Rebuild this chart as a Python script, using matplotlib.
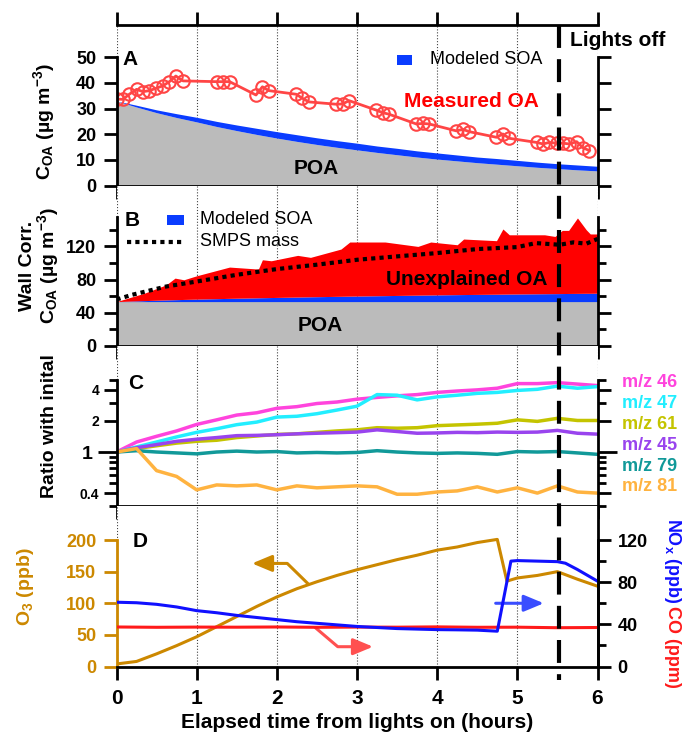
import numpy as np
import matplotlib.pyplot as plt
from matplotlib.lines import Line2D
from matplotlib.patches import Rectangle
from matplotlib.ticker import NullFormatter
from matplotlib.transforms import blended_transform_factory

plt.rcParams['font.family'] = ['Liberation Sans', 'DejaVu Sans']
plt.rcParams['font.weight'] = 'bold'
plt.rcParams['axes.labelweight'] = 'bold'
plt.rcParams['mathtext.fontset'] = 'custom'
plt.rcParams['mathtext.rm'] = 'Liberation Sans:bold'
plt.rcParams['mathtext.bf'] = 'Liberation Sans:bold'
plt.rcParams['mathtext.it'] = 'Liberation Sans:bold'
plt.rcParams['mathtext.default'] = 'bf'

# ---------------- data ----------------
hours = [0, 1, 2, 3, 4, 5, 6]
lights_off = 5.52

# panel A : POA decay + modeled SOA + measured OA
t_a = np.linspace(0, 6, 25)
poa_a = [33.0, 30.6, 28.4, 26.5, 24.8, 23.0, 21.4, 19.9, 18.5, 17.2, 16.0, 14.9, 13.9,
         12.9, 12.0, 11.1, 10.3, 9.6, 8.9, 8.3, 7.7, 7.1, 6.6, 6.1, 5.7]
soa_a = [0.0, 0.7, 1.1, 1.5, 1.8, 2.0, 2.2, 2.4, 2.5, 2.6, 2.6, 2.6, 2.6,
         2.5, 2.5, 2.4, 2.4, 2.3, 2.2, 2.2, 2.1, 2.0, 1.9, 1.9, 1.8]
t_meas = [0.0, 0.08, 0.16, 0.25, 0.33, 0.41, 0.49, 0.58, 0.66, 0.74, 0.83,
          1.25, 1.33, 1.41, 1.74, 1.82, 1.90, 2.24, 2.32, 2.40, 2.74, 2.82, 2.90,
          3.24, 3.32, 3.40, 3.74, 3.82, 3.90, 4.24, 4.32, 4.40, 4.74, 4.82, 4.90,
          5.24, 5.32, 5.40, 5.49, 5.57, 5.65, 5.74, 5.82, 5.90]
oa_meas = [33.7, 33.6, 35.6, 37.5, 36.6, 37.0, 37.9, 38.9, 40.5, 42.7, 40.8,
           40.5, 40.5, 40.5, 35.3, 38.5, 37.0, 35.6, 34.0, 32.6, 31.7, 31.8, 33.1,
           29.4, 28.4, 27.8, 24.0, 24.2, 24.0, 21.3, 21.9, 21.0, 18.8, 20.1, 18.4,
           16.8, 16.2, 16.8, 16.5, 16.5, 16.2, 17.1, 14.7, 13.6]

# panel B : wall corrected
poa_b = 53.5
t_b = [0, 0.35, 0.62, 0.73, 0.84, 1.0, 1.41, 1.77, 1.82, 1.93, 2.26, 2.42, 2.80, 2.91, 3.35,
       3.76, 3.92, 4.25, 4.33, 4.74, 4.82, 4.90, 5.34, 5.47, 5.56, 5.64, 5.75, 5.86, 5.91, 6.0]
soa_b = [0.0, 1.2, 2.0, 2.3, 2.6, 3.0, 3.9, 4.6, 4.7, 4.9, 5.5, 5.8, 6.4, 6.6, 7.2,
         7.8, 8.0, 8.4, 8.5, 8.9, 9.0, 9.1, 9.5, 9.6, 9.7, 9.8, 9.9, 10.0, 10.0, 10.1]
oa_b = [53.5, 63.7, 73.7, 81.8, 79.8, 84.6, 95.1, 92.7, 103.9, 102.7, 109.2, 106.8, 116.8, 125.3, 125.3,
        120.0, 125.3, 122.0, 128.9, 126.9, 141.0, 134.0, 134.0, 132.0, 139.3, 139.3, 154.3, 140.0, 135.0, 135.0]
t_smps = [0, 0.19, 0.62, 1.0, 1.5, 2.0, 2.5, 3.0, 3.5, 4.0, 4.5, 5.0, 5.23, 5.53, 5.7, 5.86, 6.0]
smps = [56.0, 61.6, 71.7, 77.7, 85.8, 92.7, 98.0, 103.9, 108.0, 112.0, 116.8, 119.2, 124.0,
        122.0, 124.9, 123.3, 129.0]

# panel C : ratio with initial
t_c = np.linspace(0, 6, 25)
mz_labels = ['m/z 46', 'm/z 47', 'm/z 61', 'm/z 45', 'm/z 79', 'm/z 81']
mz_colors = ['#ff44dd', '#22eeff', '#c4c400', '#9944ee', '#119999', '#ffb340']
mz46 = [1.0, 1.25, 1.42, 1.6, 1.85, 2.05, 2.28, 2.4, 2.65, 2.75, 2.95, 3.05, 3.25,
        3.38, 3.5, 3.6, 3.78, 3.9, 4.0, 4.15, 4.6, 4.6, 4.7, 4.55, 4.4]
mz47 = [1.0, 1.12, 1.25, 1.4, 1.55, 1.68, 1.84, 1.95, 2.18, 2.22, 2.35, 2.55, 2.78,
        3.6, 3.55, 3.2, 3.42, 3.55, 3.7, 3.78, 3.95, 4.05, 4.35, 4.15, 4.3]
mz61 = [1.0, 1.08, 1.15, 1.22, 1.27, 1.3, 1.38, 1.43, 1.48, 1.5, 1.55, 1.6, 1.64,
        1.72, 1.7, 1.72, 1.8, 1.83, 1.86, 1.9, 2.05, 1.98, 2.12, 2.02, 2.02]
mz45 = [1.0, 1.1, 1.18, 1.27, 1.33, 1.38, 1.44, 1.45, 1.47, 1.5, 1.52, 1.54, 1.56,
        1.64, 1.58, 1.52, 1.53, 1.55, 1.54, 1.56, 1.55, 1.56, 1.62, 1.52, 1.49]
mz79 = [1.0, 1.03, 1.0, 0.98, 0.96, 1.0, 1.02, 1.0, 1.01, 0.98, 0.99, 0.98, 0.99,
        1.03, 1.0, 0.98, 0.97, 0.98, 0.97, 0.95, 1.01, 1.0, 1.01, 0.98, 0.95]
mz81 = [1.0, 1.08, 0.66, 0.58, 0.43, 0.48, 0.47, 0.48, 0.43, 0.47, 0.45, 0.46, 0.47,
        0.46, 0.39, 0.39, 0.41, 0.42, 0.46, 0.41, 0.45, 0.40, 0.47, 0.41, 0.40]

# panel D : O3, NOx, CO
t_o3 = [0, 0.25, 0.5, 0.75, 1.0, 1.25, 1.5, 1.75, 2.0, 2.25, 2.5, 2.75, 3.0, 3.25, 3.5,
        3.75, 4.0, 4.25, 4.5, 4.75, 4.87, 5.0, 5.25, 5.5, 5.75, 6.0]
o3 = [4, 8, 20, 33, 47, 63, 79, 95, 110, 123, 134, 144, 153, 161, 169,
      176, 184, 189, 196, 201, 135, 140, 144, 150, 138, 127]
t_nox = [0, 0.25, 0.5, 0.75, 1.0, 1.25, 1.5, 1.75, 2.0, 2.25, 2.5, 2.75, 3.0, 3.25, 3.5,
         3.75, 4.0, 4.25, 4.5, 4.75, 4.92, 5.0, 5.25, 5.5, 5.6, 5.75, 6.0]
nox = [61, 60.5, 59, 56.5, 53, 51, 48.5, 46.5, 44.5, 42.5, 41, 39.5, 38, 37, 36,
       35.5, 35, 34.8, 34.5, 33.5, 100, 100.5, 100, 99.5, 98, 92, 81]
t_co = [0, 0.5, 1.0, 1.5, 2.0, 2.5, 3.0, 3.5, 4.0, 4.5, 5.0, 5.5, 6.0]
co = [37.5, 37.2, 37.4, 37.3, 37.5, 37.2, 37.4, 37.3, 37.6, 37.2, 37.3, 36.8, 37.0]

# ---------------- figure ----------------
gray = '#bbbbbb'
blue = '#0a3cff'
orange = '#cc8800'

fig = plt.figure(figsize=(6.84, 7.40), dpi=100)

def panel(top, bottom):
    # pixel rows of the reference -> figure fraction
    return fig.add_axes([116.5 / 684, 1 - bottom / 740, 481 / 684, (bottom - top) / 740])

axA = panel(25, 185.5)
axB = panel(185.5, 346)
axC = panel(346, 506)
axD = panel(506, 666.5)

for ax in (axA, axB, axC, axD):
    ax.set_xlim(0, 6)
    ax.set_xticks(hours)
    ax.grid(axis='x', ls=':', lw=0.8, color='#444444')
    ax.set_axisbelow(True)
    ax.spines['top'].set_visible(False)
    for s in ax.spines.values():
        s.set_linewidth(2)
    ax.tick_params(which='major', direction='out', length=9.5, width=2, labelsize=13, pad=5)
    ax.tick_params(which='minor', direction='out', length=6, width=2)
    ax.tick_params(axis='y', which='both', right=True)
    ax.tick_params(axis='x', labelbottom=False)
axA.spines['top'].set_visible(True)
axA.tick_params(axis='x', top=True)

# ---- A ----
poa_a = np.array(poa_a)
axA.fill_between(t_a, 0, poa_a, color=gray, lw=0)
axA.fill_between(t_a, poa_a, poa_a + np.array(soa_a), color=blue, lw=0)
axA.plot(t_meas, oa_meas, '-o', color='#ff4545', lw=2, ms=9, mfc='none', mew=1.5)
axA.set_ylim(0, 62.6)
axA.set_yticks([0, 10, 20, 30, 40, 50])
axA.spines['left'].set_bounds(0, 50)
axA.spines['right'].set_bounds(0, 50)
axA.text(0.08, 49, 'A', fontsize=15, va='center')
axA.text(4.43, 32.6, 'Measured OA', color='red', fontsize=15, ha='center', va='center')
axA.text(2.49, 6.8, 'POA', fontsize=15, ha='center', va='center')
axA.add_patch(Rectangle((3.5, 47.0), 0.19, 3.9, color=blue, lw=0))
axA.text(3.91, 49.0, 'Modeled SOA', fontsize=13, fontweight='normal', va='center')
axA.text(-0.151, 0.40, r'C$_{OA}$ (µg m$^{-3}$)', transform=axA.transAxes,
         rotation=90, ha='center', va='center', fontsize=14)

# ---- B ----
soa_top = poa_b + np.array(soa_b)
axB.fill_between(t_b, 0, poa_b, color=gray, lw=0)
axB.fill_between(t_b, poa_b, soa_top, color=blue, lw=0)
axB.fill_between(t_b, soa_top, oa_b, color='red', lw=0)
axB.plot(t_smps, smps, color='black', lw=3, ls=(0, (1, 1)))
axB.set_ylim(0, 193.4)
axB.set_yticks([0, 40, 80, 120])
axB.set_yticks([20, 60, 100, 140], minor=True)
axB.spines['left'].set_bounds(0, 155)
axB.spines['right'].set_bounds(0, 155)
axB.text(0.1, 151, 'B', fontsize=15, va='center')
axB.add_patch(Rectangle((0.63, 146.2), 0.21, 12.1, color=blue, lw=0))
axB.text(1.04, 152.3, 'Modeled SOA', fontsize=13, fontweight='normal', va='center')
axB.plot([0.13, 0.84], [125.7, 125.7], color='black', lw=3, ls=(0, (1, 1)))
axB.text(1.04, 125.7, 'SMPS mass', fontsize=13, fontweight='normal', va='center')
axB.text(4.37, 79.8, 'Unexplained OA', fontsize=15, ha='center', va='center')
axB.text(2.54, 24.2, 'POA', fontsize=15, ha='center', va='center')
axB.text(-0.185, 0.5, 'Wall Corr.', transform=axB.transAxes,
         rotation=90, ha='center', va='center', fontsize=14)
axB.text(-0.143, 0.5, r'C$_{OA}$ (µg m$^{-3}$)', transform=axB.transAxes,
         rotation=90, ha='center', va='center', fontsize=14)

# ---- C ----
for y, c in zip([mz46, mz47, mz61, mz45, mz79, mz81], mz_colors):
    axC.plot(t_c, y, color=c, lw=2.5)
axC.set_yscale('log')
axC.set_ylim(0.303, 10.64)
axC.set_yticks([0.4, 1, 2, 4])
axC.set_yticklabels(['0.4', '1', '2', '4'])
axC.set_yticks([0.3, 0.5, 0.6, 0.7, 0.8, 0.9, 3, 5], minor=True)
axC.yaxis.set_minor_formatter(NullFormatter())
axC.tick_params(axis='y', which='major', labelsize=10, pad=3)
for tk, v in zip(axC.yaxis.get_major_ticks(), [0.4, 1, 2, 4]):
    if v == 1:
        tk._apply_params(size=14, pad=3)
        tk.label1.set_fontsize(14)
axC.spines['left'].set_bounds(0.303, 5)
axC.spines['right'].set_bounds(0.303, 5)
axC.text(0.14, 4.57, 'C', fontsize=15, va='center')
for i, (lab, c) in enumerate(zip(mz_labels, mz_colors)):
    axC.text(1.051, 0.769 - i * 0.130, lab, color=c, fontsize=13,
             transform=axC.transAxes, va='center', ha='left')
axC.text(-0.14, 0.5, 'Ratio with inital', transform=axC.transAxes,
         rotation=90, ha='center', va='center', fontsize=14)

# ---- D ----
axD.plot(t_o3, o3, color=orange, lw=2.2)
axD.set_ylim(0, 253.8)
axD.set_yticks([0, 50, 100, 150, 200])
axD.spines['left'].set_bounds(0, 200)
axD.spines['left'].set_color(orange)
axD.tick_params(axis='y', colors=orange)
axD.tick_params(axis='x', labelbottom=True, labelsize=15, pad=7)
axD.set_xlabel('Elapsed time from lights on (hours)', fontsize=15, fontweight='bold', labelpad=3)
axD.text(0.2, 198.4, 'D', fontsize=15, va='center')
axD.text(-0.19, 0.5, r'O$_3$ (ppb)', transform=axD.transAxes, color=orange,
         rotation=90, ha='center', va='center', fontsize=14)

axD2 = axD.twinx()
axD2.plot(t_co, co, color='#ff1a1a', lw=2.2)
axD2.plot(t_nox, nox, color='#1010ff', lw=2.2)
axD2.set_ylim(0, 152.3)
axD2.set_yticks([0, 40, 80, 120])
axD2.set_yticks([20, 60, 100], minor=True)
for k in ('top', 'left', 'bottom'):
    axD2.spines[k].set_visible(False)
axD2.spines['right'].set_linewidth(2)
axD2.spines['right'].set_bounds(0, 120)
axD2.tick_params(which='major', direction='out', length=9.5, width=2, labelsize=13, pad=5)
axD2.tick_params(which='minor', direction='out', length=6, width=2)
axD2.text(1.155, 0.66, r'NO$_x$ (ppb)', transform=axD2.transAxes, color='#1010ff',
          rotation=-90, ha='center', va='center', fontsize=13)
axD2.text(1.155, 0.12, 'CO (ppm)', transform=axD2.transAxes, color='#ff1a1a',
          rotation=-90, ha='center', va='center', fontsize=13)

# arrows pointing to the axis of each trace
axD.plot([2.38, 2.13, 1.9], [132, 163, 163], color=orange, lw=2.2)
axD.annotate('', xy=(1.69, 163), xytext=(1.95, 163),
             arrowprops=dict(arrowstyle='-|>,head_length=0.6,head_width=0.25',
                             color=orange, lw=2.2, shrinkA=0, shrinkB=0, mutation_scale=20))
axD.annotate('', xy=(5.33, 100), xytext=(4.73, 100),
             arrowprops=dict(arrowstyle='-|>,head_length=0.6,head_width=0.25',
                             color='#3a4dff', lw=2.2, shrinkA=0, shrinkB=0, mutation_scale=20))
axD.plot([2.49, 2.76, 3.0], [60.4, 31.3, 31.3], color='#ff5050', lw=2.2)
axD.annotate('', xy=(3.20, 31.3), xytext=(2.95, 31.3),
             arrowprops=dict(arrowstyle='-|>,head_length=0.6,head_width=0.25',
                             color='#ff5050', lw=2.2, shrinkA=0, shrinkB=0, mutation_scale=20))

# lights off dashed line over all panels
tr = blended_transform_factory(axD.transData, fig.transFigure)
fig.add_artist(Line2D([lights_off, lights_off], [1 - 25 / 740, 1 - 680 / 740], transform=tr,
                      color='black', lw=3, dashes=(5.5, 2.7)))
fig.text(618 / 684, 1 - 40 / 740, 'Lights off', fontsize=15, ha='center', va='center')

fig.savefig('out.png', dpi=100)
